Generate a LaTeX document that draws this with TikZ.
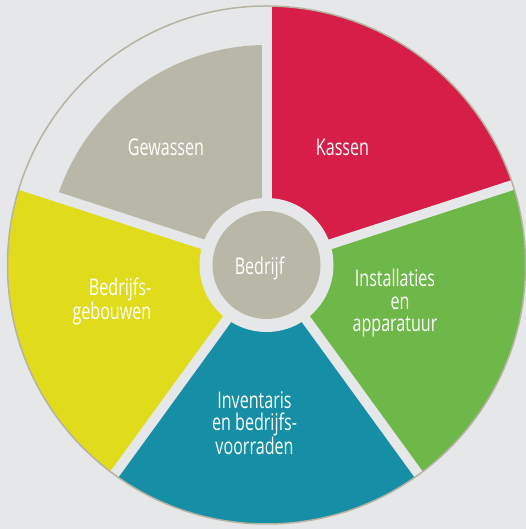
\documentclass[tikz,border=0pt]{standalone}
\usepackage{fontspec}
\setmainfont{Open Sans}[FakeStretch=0.70]
\definecolor{bgc}{HTML}{E6E7E9}
\definecolor{kred}{HTML}{D61E48}
\definecolor{kgreen}{HTML}{6EB749}
\definecolor{kteal}{HTML}{158EA6}
\definecolor{kyellow}{HTML}{E0DC1B}
\definecolor{kgray}{HTML}{B9B8A8}
\definecolor{kborder}{HTML}{B5B3A1}
\tikzset{
  lbl/.style={text=white, inner sep=0pt, font=\fontsize{23}{22.5}\selectfont},
  gapline/.style={draw=bgc, line width=10pt},
}
\begin{document}
\begin{tikzpicture}[x=1pt,y=1pt]
\useasboundingbox (0,0) rectangle (526,529);
\fill[bgc] (0,0) rectangle (526,529);
\begin{scope}[shift={(266.5,264)}]
  \fill[kred] (0,0) -- (18:259) arc[start angle=18,end angle=90,radius=259] -- cycle;
  \fill[kgreen] (0,0) -- (-54:259) arc[start angle=-54,end angle=18,radius=259] -- cycle;
  \fill[kteal] (0,0) -- (-126:259) arc[start angle=-126,end angle=-54,radius=259] -- cycle;
  \fill[kyellow] (0,0) -- (162:259) arc[start angle=162,end angle=234,radius=259] -- cycle;
  \fill[kgray] (0,0) -- (90:220) arc[start angle=90,end angle=162,radius=220] -- cycle;
  \foreach \a in {90,18,-54,-126,162} \draw[gapline] (0,0) -- (\a:262);
  \fill[bgc] (0,0) circle[radius=67];
  \fill[kgray] (0,0) circle[radius=54];
  \draw[kborder, line width=1.5pt] (0,0) circle[radius=259];
\end{scope}
\node[lbl, anchor=base] (gew) at (166,373.3) {Gewassen};
\node[lbl, anchor=base] (kas) at (342.5,373.3) {Kassen};
\node[lbl, anchor=base] (bed) at (259.5,254.7) {Bedrijf};
\node[lbl, anchor=base, align=center] (ins) at (395,197) {Installaties\\\hspace*{10pt}en\\apparatuur};
\node[lbl, anchor=base east, align=right] (geb) at (151.5,209.5) {Bedrijfs-\\gebouwen};
\node[lbl, anchor=base, align=center] (inv) at (254.5,74) {Inventaris\\en bedrijfs-\\voorraden};
\end{tikzpicture}
\end{document}
